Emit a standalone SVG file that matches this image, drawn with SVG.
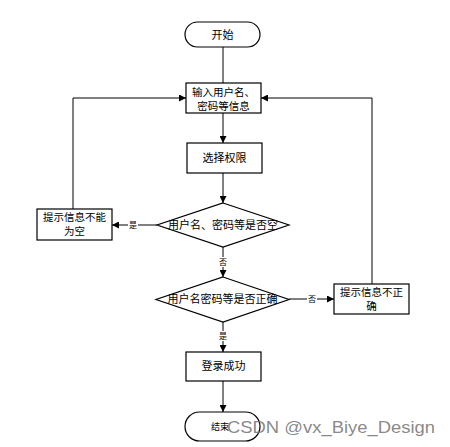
<svg xmlns="http://www.w3.org/2000/svg" width="450" height="447" viewBox="0 0 450 447">
<style>
.n{fill:#fff;stroke:#000;stroke-width:1.2}
.t{font-family:"Noto Sans CJK SC","Liberation Serif",serif;font-size:11px;fill:#000;text-anchor:middle}
.t2{font-family:"Noto Sans CJK SC","Liberation Serif",serif;font-size:10.5px;fill:#000;text-anchor:middle}
.l{font-family:"Noto Sans CJK SC",serif;font-size:8px;fill:#000;text-anchor:middle}
.c{fill:none;stroke:#000;stroke-width:1}
</style>
<defs>
<marker id="a" viewBox="0 0 8 8" refX="8" refY="4" markerWidth="7" markerHeight="7" orient="auto" markerUnits="userSpaceOnUse">
<path d="M0,0 L8,4 L0,8 z" fill="#000"/>
</marker>
</defs>
<rect width="450" height="447" fill="#fff"/>
<g id="connectors">
<path class="c" d="M223,47 V83"/>
<path class="c" d="M223,113 V143" marker-end="url(#a)"/>
<path class="c" d="M223,173 V203" marker-end="url(#a)"/>
<path class="c" d="M223,247 V277" marker-end="url(#a)"/>
<path class="c" d="M223,322 V352" marker-end="url(#a)"/>
<path class="c" d="M223,381 V412" marker-end="url(#a)"/>
<path class="c" d="M157,225 H112" marker-end="url(#a)"/>
<path class="c" d="M289,299 H334" marker-end="url(#a)"/>
<path class="c" d="M73,209 V98 H186" marker-end="url(#a)"/>
<path class="c" d="M372,284 V98 H261" marker-end="url(#a)"/>
<rect x="128" y="220" width="10" height="10" fill="#fff"/>
<text class="l" x="133" y="228">是</text>
<rect x="218" y="257" width="10" height="10" fill="#fff"/>
<text class="l" x="223" y="265">否</text>
<rect x="307" y="294" width="10" height="10" fill="#fff"/>
<text class="l" x="312" y="302">否</text>
<rect x="218" y="331" width="10" height="10" fill="#fff"/>
<text class="l" x="223" y="339">是</text>
</g>
<g id="start">
<rect class="n" x="185" y="22" width="75" height="25" rx="12.5"/>
<text class="t" x="222.5" y="38.5">开始</text>
</g>
<g id="input">
<rect class="n" x="186" y="83" width="75" height="30"/>
<text class="t2" x="223.5" y="95.5">输入用户名、</text>
<text class="t2" x="223.5" y="109.5">密码等信息</text>
</g>
<g id="select">
<rect class="n" x="187" y="143" width="75" height="30"/>
<text class="t" x="224.5" y="162">选择权限</text>
</g>
<g id="check-empty">
<polygon class="n" points="223,203 289,225 223,247 157,225"/>
<text class="t" x="223" y="229">用户名、密码等是否空</text>
</g>
<g id="empty-msg">
<rect class="n" x="37" y="209" width="75" height="31"/>
<text class="t2" x="74.5" y="220.5">提示信息不能</text>
<text class="t2" x="74.5" y="234.5">为空</text>
</g>
<g id="check-correct">
<polygon class="n" points="223,277 289,299.5 223,322 156,299.5"/>
<text class="t" x="222.5" y="303">用户名密码等是否正确</text>
</g>
<g id="wrong-msg">
<rect class="n" x="334" y="284" width="75" height="30"/>
<text class="t2" x="371.5" y="295.5">提示信息不正</text>
<text class="t2" x="371.5" y="309.5">确</text>
</g>
<g id="success">
<rect class="n" x="186" y="352" width="75" height="29"/>
<text class="t" x="223.5" y="370">登录成功</text>
</g>
<g id="end">
<rect class="n" x="185" y="412" width="75" height="29" rx="14.5"/>
<text class="t" x="220" y="430" style="font-size:9px">结束</text>
</g>
<text x="227" y="433" font-family="Liberation Sans, Arial, sans-serif" font-size="17" fill="#7a7a7a" fill-opacity="0.9" textLength="208" lengthAdjust="spacingAndGlyphs">CSDN @vx_Biye_Design</text>
</svg>
